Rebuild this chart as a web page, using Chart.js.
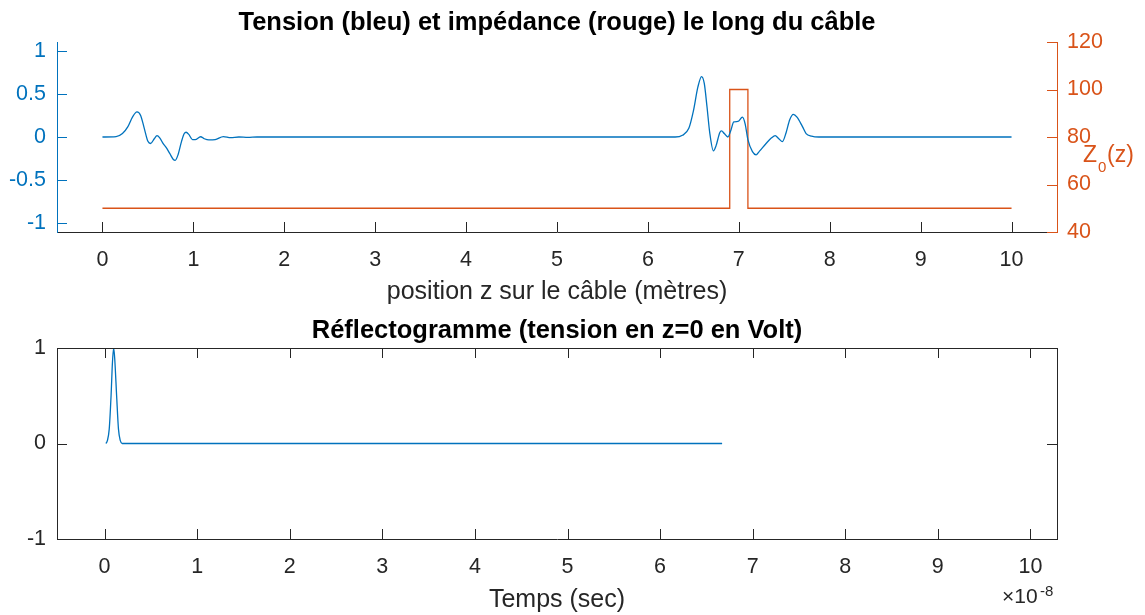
<!DOCTYPE html>
<html>
<head>
<meta charset="utf-8">
<script src="https://cdn.jsdelivr.net/npm/chart.js@4"></script>
<style>
  html, body { margin: 0; padding: 0; background: #fff; }
  #wrap { position: relative; width: 1145px; height: 615px; }
  canvas { position: absolute; left: 0; }
  #cTop { top: 0; }
  #cBot { top: 310px; }
</style>
</head>
<body>
<div id="wrap">
  <canvas id="cTop" width="1145" height="310"></canvas>
  <canvas id="cBot" width="1145" height="305"></canvas>
</div>
<script>
// Tension / impedance along the cable + reflectogram (MATLAB-like look)

// --- top plot: voltage along the cable ---
const zPos = [0, 0.15, 0.22, 0.28, 0.33, 0.38, 0.42, 0.46, 0.50, 0.53, 0.57, 0.60, 0.63, 0.67, 0.70,
  0.74, 0.78, 0.80, 0.83, 0.87, 0.90, 0.92, 0.95, 0.99, 1.02, 1.08, 1.12, 1.17, 1.24, 1.33, 1.41,
  1.50, 1.60, 1.70, 6.30, 6.38, 6.45, 6.50, 6.55, 6.59, 6.62, 6.65, 6.68, 6.72, 6.75, 6.79, 6.81,
  6.84, 6.88, 6.91, 6.945, 6.99, 7.04, 7.07, 7.10, 7.15, 7.19, 7.23, 7.30, 7.36, 7.40, 7.44, 7.48,
  7.52, 7.56, 7.60, 7.64, 7.70, 7.74, 7.80, 7.88, 10];
const tension = [0, 0.005, 0.04, 0.12, 0.23, 0.29, 0.25, 0.10, -0.05, -0.075, -0.02, 0.015, -0.01, -0.08, -0.12,
  -0.19, -0.26, -0.27, -0.21, -0.05, 0.04, 0.055, 0.03, -0.03, -0.03, 0.003, -0.02, -0.034, -0.03, 0.004, -0.008,
  0, -0.004, 0, 0, 0.02, 0.10, 0.30, 0.58, 0.70, 0.62, 0.35, 0.05, -0.16, -0.10, 0.05, 0.07,
  0.04, 0.0, 0.07, 0.175, 0.18, 0.23, 0.15, -0.03, -0.17, -0.206, -0.16, -0.075, -0.01, 0.015, -0.02, -0.053,
  0.05, 0.20, 0.263, 0.23, 0.12, 0.04, 0.01, 0, 0];

// impedance profile Z0(z)
const zImp = [0, 6.9, 6.9, 7.1, 7.1, 10];
const impedance = [50, 50, 100, 100, 50, 50];

// --- bottom plot: reflectogram, time in units of 1e-8 s ---
const tReflect = [0.015, 0.03, 0.05, 0.07, 0.085, 0.098, 0.11, 0.13, 0.15, 0.17, 0.19, 6.67];
const vReflect = [0, 0.03, 0.15, 0.5, 0.85, 1.0, 0.88, 0.5, 0.15, 0.03, 0, 0];

// tick values
const zTicks = [0, 1, 2, 3, 4, 5, 6, 7, 8, 9, 10];
const vTicks = [-1, -0.5, 0, 0.5, 1];
const impTicks = [40, 60, 80, 100, 120];
const tTicks = [0, 1, 2, 3, 4, 5, 6, 7, 8, 9, 10];
const rTicks = [-1, 0, 1];

const BLUE = '#0072BD', ORANGE = '#D95319', DARK = '#262626';
const FONT = "'Liberation Sans', Arial, Helvetica, sans-serif";
const TICK_PX = 21.5, LABEL_PX = 25, TITLE_PX = 25.5;
Chart.defaults.font.family = FONT;

const pts = (xs, ys) => xs.map((x, i) => ({ x, y: ys[i] }));
const fixW = w => s => { s.width = w; };
const fixH = h => s => { s.height = h; };
const useTicks = arr => s => { s.ticks = arr.map(v => ({ value: v })); };

// inward ticks, optional box and the axes title, drawn like MATLAB does
const matlabAxes = {
  id: 'matlabAxes',
  afterDraw(chart, args, opts) {
    const ctx = chart.ctx, a = chart.chartArea, L = 10;
    ctx.save();
    ctx.lineWidth = 1;
    (opts.marks || []).forEach(m => {
      const s = chart.scales[m.scale];
      ctx.strokeStyle = m.color;
      s.ticks.forEach(tk => {
        const p = Math.round(s.getPixelForValue(tk.value)) + 0.5;
        ctx.beginPath();
        if (m.side === 'bottom') { ctx.moveTo(p, a.bottom); ctx.lineTo(p, a.bottom - L); }
        if (m.side === 'top')    { ctx.moveTo(p, a.top);    ctx.lineTo(p, a.top + L); }
        if (m.side === 'left')   { ctx.moveTo(a.left, p);   ctx.lineTo(a.left + L, p); }
        if (m.side === 'right')  { ctx.moveTo(a.right, p);  ctx.lineTo(a.right - L, p); }
        ctx.stroke();
      });
    });
    if (opts.box) {
      ctx.strokeStyle = DARK;
      ctx.beginPath();
      ctx.moveTo(a.left, Math.round(a.top) + 0.5);
      ctx.lineTo(a.right, Math.round(a.top) + 0.5);
      ctx.moveTo(Math.round(a.right) + 0.5, a.top);
      ctx.lineTo(Math.round(a.right) + 0.5, a.bottom);
      ctx.stroke();
    }
    if (opts.title) {
      // title centred over the axes, not over the whole canvas
      ctx.fillStyle = '#000';
      ctx.font = `bold ${TITLE_PX}px ${FONT}`;
      ctx.textAlign = 'center';
      ctx.textBaseline = 'alphabetic';
      ctx.fillText(opts.title, (a.left + a.right) / 2, opts.titleY);
      ctx.textAlign = 'left';
    }
    if (opts.extra) opts.extra(ctx, a);
    ctx.restore();
  }
};

const baseOpts = {
  responsive: false,
  animation: false,
  events: [],
};

function xAxis(min, max, ticks, h, label, padBottom) {
  return {
    type: 'linear', position: 'bottom', min, max,
    afterBuildTicks: useTicks(ticks), afterFit: fixH(h),
    grid: { display: false, drawTicks: false },
    border: { display: true, color: DARK, width: 1 },
    ticks: { color: DARK, font: { size: TICK_PX }, padding: 15, maxRotation: 0, autoSkip: false, callback: v => String(v) },
    title: { display: true, text: label, color: DARK, font: { size: LABEL_PX }, padding: { top: 0, bottom: padBottom } }
  };
}

function yAxis(pos, min, max, ticks, w, color, pad) {
  return {
    type: 'linear', position: pos, min, max,
    afterBuildTicks: useTicks(ticks), afterFit: fixW(w),
    grid: { display: false, drawTicks: false },
    border: { display: true, color, width: 1 },
    ticks: { color, font: { size: TICK_PX }, padding: pad, callback: v => String(v) }
  };
}

new Chart(document.getElementById('cTop'), {
  type: 'line',
  data: {
    datasets: [
      { data: pts(zPos, tension), borderColor: BLUE, borderWidth: 1.3, pointRadius: 0,
        cubicInterpolationMode: 'monotone', yAxisID: 'y' },
      { data: pts(zImp, impedance), borderColor: ORANGE, borderWidth: 1.3, pointRadius: 0,
        tension: 0, yAxisID: 'y1' }
    ]
  },
  options: {
    ...baseOpts,
    layout: { padding: { top: 42 } },
    scales: {
      x: xAxis(-0.5, 10.5, zTicks, 78, 'position z sur le câble (mètres)', 3),
      y: yAxis('left', -1.1, 1.1, vTicks, 57, BLUE, 11),
      y1: yAxis('right', 40, 120, impTicks, 88, ORANGE, 10)
    },
    plugins: {
      legend: { display: false },
      tooltip: { enabled: false },
      title: { display: false },
      matlabAxes: {
        title: 'Tension (bleu) et impédance (rouge) le long du câble',
        titleY: 30,
        marks: [
          { scale: 'x', side: 'bottom', color: DARK },
          { scale: 'y', side: 'left', color: BLUE },
          { scale: 'y1', side: 'right', color: ORANGE }
        ],
        extra(ctx) {
          ctx.fillStyle = ORANGE;
          ctx.textBaseline = 'alphabetic';
          ctx.font = '23px ' + FONT;
          ctx.fillText('Z', 1083, 162);
          ctx.font = '15px ' + FONT;
          ctx.fillText('0', 1098, 172);
          ctx.font = '23px ' + FONT;
          ctx.fillText('(z)', 1107, 162);
        }
      }
    }
  },
  plugins: [matlabAxes]
});

new Chart(document.getElementById('cBot'), {
  type: 'line',
  data: {
    datasets: [
      { data: pts(tReflect, vReflect), borderColor: BLUE, borderWidth: 1.3, pointRadius: 0,
        cubicInterpolationMode: 'monotone' }
    ]
  },
  options: {
    ...baseOpts,
    layout: { padding: { top: 38, right: 88 } },
    scales: {
      x: xAxis(-0.514, 10.287, tTicks, 76, 'Temps (sec)', 0),
      y: yAxis('left', -1, 1, rTicks, 57, DARK, 11)
    },
    plugins: {
      legend: { display: false },
      tooltip: { enabled: false },
      title: { display: false },
      matlabAxes: {
        title: 'Réflectogramme (tension en z=0 en Volt)',
        titleY: 28,
        box: true,
        marks: [
          { scale: 'x', side: 'bottom', color: DARK },
          { scale: 'x', side: 'top', color: DARK },
          { scale: 'y', side: 'left', color: DARK },
          { scale: 'y', side: 'right', color: DARK }
        ],
        extra(ctx) {
          ctx.fillStyle = DARK;
          ctx.textBaseline = 'alphabetic';
          ctx.font = '21px ' + FONT;
          ctx.fillText('\u00d710', 1002, 293);
          ctx.font = '15px ' + FONT;
          ctx.fillText('-8', 1040, 286);
        }
      }
    }
  },
  plugins: [matlabAxes]
});
</script>
</body>
</html>
